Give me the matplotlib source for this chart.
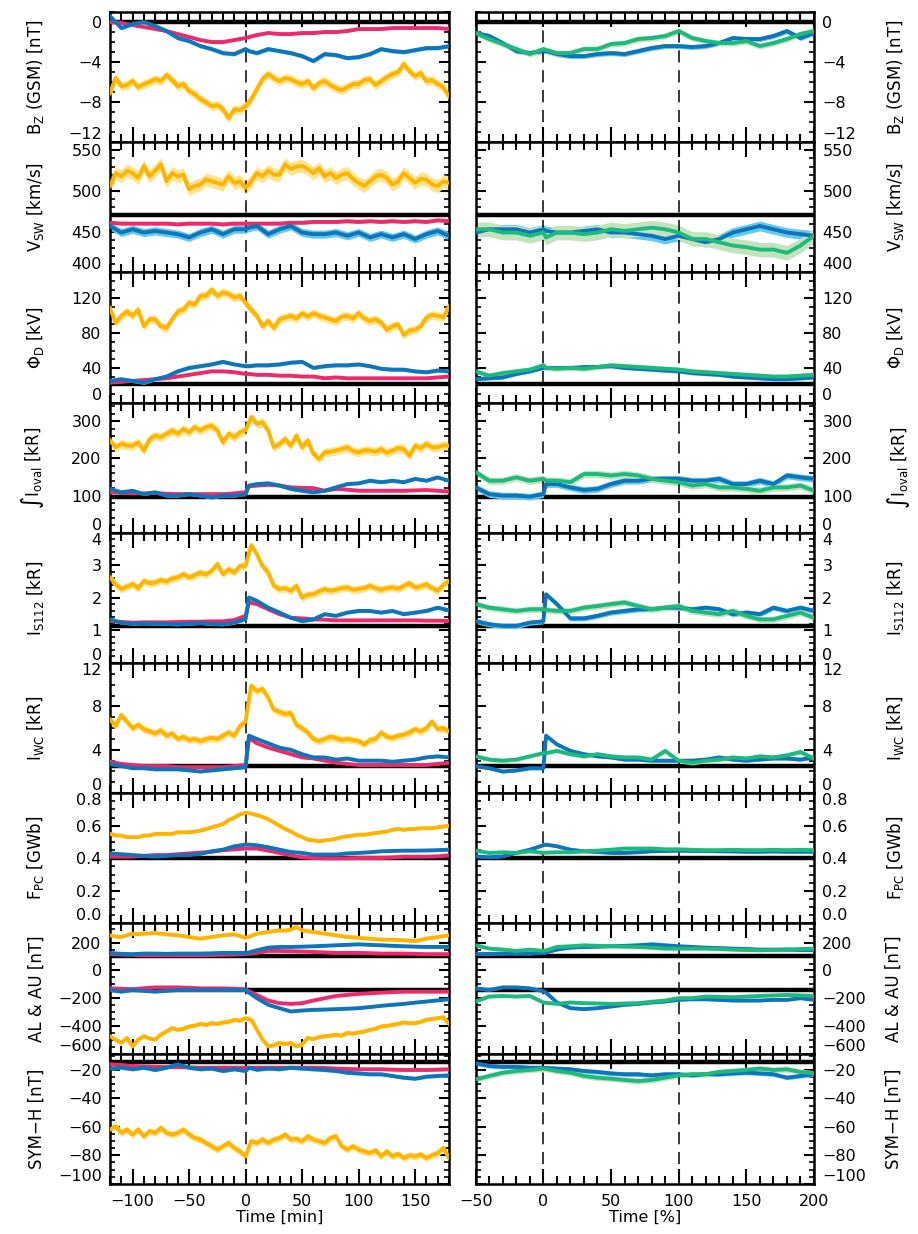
import matplotlib.pyplot as plt
import numpy as np
from matplotlib.ticker import MultipleLocator

# couleurs
YEL, YEL_BAND = "#FFB400", "#FFE38E"
PNK, PNK_BAND = "#EE2A6D", "#F6A2C0"
BLU, BLU_BAND = "#0E75BA", "#63CAEF"
GRN, GRN_BAND = "#1DB97F", "#C3E3BC"

# ---------------- time grids ----------------
t_left_5 = list(range(-120, 181, 5))
t_left = [-120, -110, -100, -90, -80, -70, -60, -50, -40, -30,
          -20, -10, 0, 3, 10, 20, 30, 40, 50, 60,
          70, 80, 90, 100, 110, 120, 130, 140, 150, 160,
          170, 180]
t_right = [-50, -40, -30, -20, -10,
           0, 2, 10, 20, 30,
           40, 50, 60, 70, 80, 90, 100, 110, 120, 130,
           140, 150, 160, 170, 180, 190, 200]

# ---------------- left column : yellow (5 min grid) ----------------
bz_yel = [-7.1, -5.6, -6.4, -6.3, -5.9, -6.5, -6.2, -6.0, -5.7, -5.9,
          -5.3, -5.8, -6.4, -6.2, -6.9, -7.2, -7.7, -8.0, -8.4, -8.3,
          -8.7, -9.6, -8.7, -8.8, -8.4, -7.7, -6.7, -5.7, -5.2, -5.6,
          -5.9, -5.6, -5.7, -6.0, -6.2, -5.9, -6.6, -6.1, -5.9, -6.3,
          -6.6, -6.8, -6.5, -6.2, -6.2, -5.8, -5.7, -6.3, -5.9, -5.5,
          -5.2, -5.0, -4.2, -4.9, -5.4, -5.1, -5.9, -5.8, -6.2, -6.5,
          -7.4]
vsw_yel = [506, 522, 518, 525, 522, 516, 531, 518, 525, 533,
           512, 522, 518, 520, 502, 506, 508, 514, 512, 510,
           508, 518, 510, 512, 504, 512, 522, 518, 525, 520,
           520, 533, 527, 530, 531, 527, 522, 528, 518, 522,
           516, 520, 522, 515, 510, 506, 512, 518, 520, 516,
           508, 512, 522, 516, 510, 515, 514, 508, 506, 512,
           510]
phi_yel = [109, 92, 100, 105, 100, 107, 88, 96, 96, 88,
           86, 96, 105, 107, 115, 113, 123, 123, 130, 123,
           127, 125, 121, 123, 115, 107, 100, 88, 94, 86,
           96, 98, 100, 97, 103, 99, 103, 100, 98, 96,
           94, 99, 100, 97, 103, 97, 94, 96, 92, 84,
           88, 90, 78, 83, 84, 88, 98, 101, 100, 98,
           111]
oval_yel = [248, 230, 239, 235, 234, 243, 221, 252, 261, 257,
            266, 275, 266, 279, 270, 284, 275, 284, 288, 275,
            243, 266, 257, 270, 275, 311, 293, 297, 275, 230,
            239, 252, 234, 261, 230, 248, 212, 199, 216, 218,
            221, 225, 230, 220, 216, 222, 221, 218, 225, 215,
            221, 228, 225, 207, 234, 228, 239, 230, 230, 235,
            234]
s112_yel = [2.63, 2.42, 2.27, 2.35, 2.42, 2.30, 2.52, 2.45, 2.47, 2.55,
            2.50, 2.60, 2.63, 2.73, 2.63, 2.70, 2.78, 2.72, 2.83, 3.04,
            2.73, 2.88, 2.78, 2.98, 2.98, 3.62, 3.34, 2.98, 2.78, 2.37,
            2.27, 2.30, 2.22, 2.37, 2.01, 2.10, 2.11, 2.20, 2.27, 2.22,
            2.25, 2.30, 2.32, 2.25, 2.27, 2.30, 2.37, 2.30, 2.25, 2.30,
            2.32, 2.28, 2.37, 2.45, 2.32, 2.35, 2.42, 2.30, 2.22, 2.40,
            2.52]
wc_yel = [6.8, 6.2, 7.2, 6.6, 6.0, 6.3, 5.9, 5.7, 5.5, 5.8,
          5.3, 5.5, 5.0, 5.2, 4.9, 5.0, 4.8, 5.0, 5.1, 5.0,
          5.3, 5.6, 5.3, 6.2, 6.6, 9.9, 9.4, 9.6, 8.8, 7.7,
          7.5, 7.3, 7.4, 6.3, 6.0, 5.6, 5.0, 4.8, 5.0, 5.2,
          5.1, 4.9, 5.0, 4.9, 4.8, 4.5, 4.9, 5.0, 5.6, 5.2,
          5.1, 5.3, 5.4, 5.6, 5.9, 5.7, 6.0, 6.6, 5.9, 6.0,
          5.7]
pc_yel = [0.55, 0.54, 0.54, 0.53, 0.53, 0.53, 0.54, 0.54, 0.55, 0.55,
          0.55, 0.55, 0.56, 0.56, 0.56, 0.565, 0.57, 0.58, 0.59, 0.60,
          0.61, 0.635, 0.65, 0.67, 0.68, 0.675, 0.665, 0.655, 0.64, 0.62,
          0.60, 0.58, 0.565, 0.545, 0.53, 0.515, 0.51, 0.505, 0.51, 0.515,
          0.52, 0.53, 0.535, 0.54, 0.545, 0.545, 0.55, 0.555, 0.56, 0.565,
          0.575, 0.58, 0.575, 0.58, 0.58, 0.585, 0.585, 0.585, 0.59, 0.595,
          0.60]
au_yel = [254, 245, 242, 255, 266, 262, 266, 268, 271, 265,
          261, 258, 254, 248, 242, 235, 230, 236, 242, 248,
          254, 258, 261, 248, 237, 250, 266, 272, 278, 285,
          290, 288, 295, 314, 290, 284, 278, 272, 266, 260,
          254, 248, 242, 240, 237, 232, 230, 226, 223, 222,
          223, 220, 218, 215, 213, 220, 230, 236, 242, 248,
          254]
al_yel = [-475, -499, -523, -487, -547, -499, -475, -490, -499, -463,
          -440, -416, -428, -420, -404, -398, -385, -392, -380, -385,
          -375, -370, -356, -362, -344, -356, -428, -499, -547, -540,
          -523, -530, -523, -547, -535, -487, -495, -480, -475, -470,
          -463, -470, -451, -455, -447, -440, -428, -420, -404, -400,
          -392, -385, -375, -380, -380, -370, -356, -350, -344, -337,
          -385]
sym_yel = [-61.9, -59.5, -64.2, -61.9, -65.4, -61.9, -66.6, -63.0, -64.2, -60.7,
           -64.2, -65.4, -64.2, -61.9, -65.4, -67.8, -68.9, -71.3, -73.6, -76.0,
           -73.6, -71.3, -74.8, -77.2, -80.7, -70.1, -71.3, -68.9, -71.3, -68.9,
           -67.8, -65.4, -68.9, -68.4, -70.1, -66.6, -68.9, -70.1, -71.3, -67.8,
           -66.6, -73.6, -76.0, -73.6, -76.0, -77.2, -78.4, -76.5, -80.7, -77.2,
           -80.7, -79.0, -81.9, -80.0, -80.7, -79.5, -81.9, -80.0, -78.4, -74.8,
           -81.9]

# ---------------- left column : pink and blue ----------------
bz_pnk = [0.0, -0.1, -0.3, -0.5, -0.7, -0.9, -1.2, -1.5, -1.8, -2.0,
          -2.0, -1.8, -1.6, -1.5, -1.3, -1.1, -1.2, -1.2, -1.1, -1.1,
          -1.0, -1.0, -0.9, -0.7, -0.7, -0.7, -0.6, -0.6, -0.6, -0.6,
          -0.6, -0.7]
bz_blu = [0.6, -0.6, -0.2, 0.0, -0.4, -0.9, -1.6, -1.9, -2.4, -2.7,
          -3.1, -3.2, -2.7, -2.9, -3.1, -2.7, -2.9, -3.1, -3.4, -3.9,
          -3.2, -3.3, -3.6, -3.5, -3.2, -2.7, -2.9, -3.0, -2.8, -2.6,
          -2.6, -2.4]
vsw_pnk = [461, 460, 460, 460, 460, 460, 459, 460, 460, 460,
           459, 460, 460, 460, 460, 460, 460, 461, 461, 462,
           462, 462, 463, 462, 463, 462, 463, 462, 463, 462,
           464, 463]
vsw_blu = [457, 449, 453, 449, 451, 449, 447, 443, 449, 453,
           447, 453, 453, 455, 457, 447, 453, 457, 449, 447,
           447, 449, 445, 449, 443, 447, 443, 447, 441, 447,
           451, 445]
phi_pnk = [23, 24, 25, 26, 27, 28, 30, 32, 34, 36,
           36, 35, 33, 33, 32, 32, 31, 31, 30, 30,
           28, 29, 28, 28, 28, 28, 28, 28, 28, 28,
           29, 30]
phi_blu = [25, 27, 25, 23, 27, 30, 36, 40, 42, 44,
           47, 44, 42, 42, 43, 43, 44, 46, 47, 40,
           42, 43, 43, 44, 42, 39, 38, 38, 36, 35,
           37, 36]
oval_pnk = [109, 107, 106, 106, 107, 105, 104, 104, 104, 104,
            104, 106, 109, 125, 127, 129, 127, 122, 121, 120,
            113, 118, 116, 113, 113, 113, 113, 113, 114, 115,
            113, 111]
oval_blu = [118, 109, 113, 104, 109, 100, 100, 104, 100, 95,
            100, 100, 104, 127, 131, 133, 127, 118, 113, 109,
            113, 122, 131, 133, 140, 136, 140, 136, 145, 140,
            149, 140]
s112_pnk = [1.29, 1.26, 1.24, 1.25, 1.25, 1.25, 1.26, 1.27, 1.27, 1.28,
            1.28, 1.32, 1.45, 1.86, 1.81, 1.65, 1.50, 1.39, 1.37, 1.34,
            1.33, 1.31, 1.31, 1.31, 1.31, 1.31, 1.31, 1.31, 1.31, 1.30,
            1.30, 1.29]
s112_blu = [1.34, 1.24, 1.21, 1.22, 1.21, 1.20, 1.19, 1.21, 1.23, 1.20,
            1.19, 1.24, 1.35, 2.01, 1.91, 1.70, 1.55, 1.39, 1.29, 1.34,
            1.50, 1.45, 1.55, 1.60, 1.60, 1.55, 1.60, 1.50, 1.55, 1.60,
            1.70, 1.62]
wc_pnk = [2.9, 2.7, 2.6, 2.5, 2.5, 2.5, 2.4, 2.4, 2.4, 2.4,
          2.4, 2.5, 2.6, 5.1, 4.6, 4.2, 3.9, 3.6, 3.3, 3.2,
          3.0, 2.8, 2.7, 2.6, 2.6, 2.6, 2.6, 2.6, 2.6, 2.6,
          2.7, 2.8]
wc_blu = [2.7, 2.5, 2.3, 2.3, 2.2, 2.2, 2.2, 2.1, 2.0, 2.1,
          2.2, 2.3, 2.4, 5.3, 5.0, 4.6, 4.2, 4.0, 3.6, 3.3,
          3.3, 3.1, 3.2, 3.0, 3.0, 3.0, 2.9, 3.0, 3.1, 3.3,
          3.4, 3.3]
pc_pnk = [0.41, 0.41, 0.41, 0.415, 0.42, 0.42, 0.425, 0.43, 0.435, 0.44,
          0.45, 0.455, 0.46, 0.46, 0.46, 0.447, 0.433, 0.418, 0.406, 0.402,
          0.40, 0.40, 0.40, 0.402, 0.402, 0.402, 0.405, 0.41, 0.41, 0.41,
          0.412, 0.418]
pc_blu = [0.43, 0.425, 0.42, 0.415, 0.41, 0.415, 0.42, 0.42, 0.427, 0.443,
          0.453, 0.474, 0.484, 0.484, 0.48, 0.468, 0.453, 0.439, 0.433, 0.423,
          0.423, 0.423, 0.43, 0.433, 0.437, 0.443, 0.445, 0.447, 0.447, 0.448,
          0.45, 0.453]
au_pnk = [118, 115, 113, 110, 110, 110, 110, 110, 110, 112,
          113, 115, 118, 120, 127, 141, 141, 139, 137, 134,
          130, 127, 127, 127, 125, 122, 122, 122, 120, 118,
          118, 118]
au_blu = [127, 120, 118, 122, 122, 120, 122, 122, 122, 124,
          127, 127, 127, 130, 146, 165, 170, 170, 172, 175,
          178, 182, 185, 189, 185, 182, 178, 175, 172, 170,
          170, 170]
al_pnk = [-129, -132, -136, -128, -122, -122, -122, -125, -129, -129,
          -129, -132, -136, -150, -177, -217, -236, -241, -236, -217,
          -200, -184, -176, -169, -164, -160, -156, -153, -153, -153,
          -153, -153]
al_blu = [-141, -153, -141, -147, -153, -147, -141, -141, -141, -141,
          -141, -141, -141, -160, -200, -248, -272, -296, -289, -284,
          -282, -279, -276, -272, -264, -255, -248, -241, -232, -224,
          -216, -208]
sym_pnk = [-16.0, -16.5, -17.2, -17.5, -17.8, -18.0, -18.0, -18.2, -18.4, -18.4,
           -18.4, -18.4, -18.4, -18.4, -18.4, -18.4, -18.4, -18.4, -18.4, -18.4,
           -18.6, -19.0, -19.3, -19.5, -19.5, -19.5, -19.8, -20.0, -20.0, -20.0,
           -19.8, -19.5]
sym_blu = [-19.0, -18.4, -19.5, -18.4, -20.0, -18.4, -16.0, -18.4, -19.5, -19.0,
           -20.7, -19.5, -20.7, -18.4, -19.8, -19.0, -19.5, -18.4, -19.0, -19.5,
           -20.0, -20.7, -21.9, -22.4, -23.0, -23.0, -24.2, -25.4, -26.1, -24.7,
           -24.2, -23.8]

# ---------------- right column : blue and green ----------------
bz_blu_r = [-1.1, -1.4, -2.1, -2.9, -3.1,
            -2.9, -2.9, -3.2, -3.4, -3.4,
            -3.2, -3.1, -3.2, -2.9, -2.6, -2.4, -2.4, -2.5, -2.4, -2.1,
            -1.6, -1.7, -1.7, -1.4, -0.9, -1.6, -1.1]
bz_grn_r = [-1.1, -1.7, -2.2, -2.7, -3.2,
            -2.7, -2.8, -3.1, -3.1, -2.7,
            -2.7, -2.2, -2.1, -1.7, -1.6, -1.4, -0.9, -1.6, -1.9, -2.1,
            -2.1, -1.9, -2.4, -2.1, -1.7, -1.2, -0.9]
vsw_blu_r = [449, 453, 453, 453, 449,
             453, 451, 449, 449, 451,
             453, 449, 449, 447, 445, 441, 445, 441, 437, 441,
             449, 453, 457, 453, 449, 447, 445]
vsw_grn_r = [453, 453, 449, 449, 445,
             449, 443, 449, 449, 447,
             449, 453, 451, 453, 455, 453, 449, 441, 441, 437,
             433, 431, 428, 428, 424, 433, 445]
phi_blu_r = [27, 28, 29, 33, 36,
             40, 40, 40, 40, 41,
             41, 42, 40, 39, 38, 37, 36, 34, 33, 32,
             30, 29, 28, 27, 27, 28, 29]
phi_grn_r = [36, 31, 34, 36, 38,
             43, 40, 39, 40, 39,
             41, 43, 42, 41, 40, 39, 38, 36, 35, 34,
             33, 32, 31, 30, 30, 31, 32]
oval_blu_r = [122, 104, 100, 100, 97,
              104, 131, 131, 122, 115,
              118, 131, 140, 140, 145, 145, 145, 140, 140, 145,
              131, 131, 140, 131, 154, 149, 145]
oval_grn_r = [163, 140, 140, 149, 140,
              145, 140, 140, 136, 158,
              158, 154, 158, 154, 145, 140, 136, 127, 131, 122,
              122, 118, 113, 122, 122, 127, 113]
s112_blu_r = [1.29, 1.19, 1.14, 1.14, 1.24,
              1.28, 2.11, 1.81, 1.37, 1.37,
              1.45, 1.55, 1.60, 1.65, 1.65, 1.70, 1.70, 1.65, 1.70, 1.65,
              1.50, 1.55, 1.50, 1.70, 1.60, 1.70, 1.60]
s112_grn_r = [1.81, 1.70, 1.65, 1.60, 1.65,
              1.65, 1.63, 1.60, 1.60, 1.70,
              1.75, 1.81, 1.86, 1.75, 1.65, 1.70, 1.75, 1.60, 1.55, 1.50,
              1.60, 1.45, 1.34, 1.34, 1.45, 1.55, 1.39]
wc_blu_r = [2.5, 2.3, 2.0, 2.1, 2.3,
            2.3, 5.3, 4.5, 3.9, 3.6,
            3.4, 3.3, 3.1, 3.1, 3.0, 3.0, 3.0, 3.0, 3.1, 3.3,
            3.1, 3.0, 3.1, 3.2, 3.2, 3.1, 3.3]
wc_grn_r = [3.4, 3.1, 3.0, 3.1, 3.4,
            3.7, 3.7, 3.9, 3.6, 3.4,
            3.6, 3.4, 3.3, 3.3, 3.1, 3.9, 3.0, 2.8, 3.0, 3.1,
            3.3, 3.2, 3.4, 3.3, 3.5, 3.8, 3.2]
pc_blu_r = [0.412, 0.406, 0.412, 0.433, 0.453,
            0.48, 0.484, 0.474, 0.453, 0.443,
            0.439, 0.433, 0.433, 0.437, 0.443, 0.445, 0.447, 0.445, 0.445, 0.443,
            0.442, 0.44, 0.44, 0.442, 0.44, 0.44, 0.44]
pc_grn_r = [0.447, 0.433, 0.437, 0.433, 0.443,
            0.433, 0.435, 0.437, 0.437, 0.443,
            0.447, 0.453, 0.46, 0.46, 0.46, 0.455, 0.455, 0.452, 0.45, 0.45,
            0.452, 0.45, 0.45, 0.452, 0.45, 0.452, 0.45]
au_blu_r = [118, 120, 122, 122, 122,
            127, 130, 151, 165, 170,
            172, 175, 178, 182, 189, 182, 175, 170, 165, 162,
            158, 155, 151, 151, 151, 148, 146]
au_grn_r = [182, 158, 151, 141, 151,
            141, 145, 170, 175, 182,
            178, 175, 172, 170, 165, 158, 158, 158, 158, 155,
            151, 148, 146, 148, 151, 155, 158]
al_blu_r = [-129, -141, -122, -122, -129,
            -150, -160, -231, -272, -279,
            -272, -260, -248, -241, -231, -224, -212, -208, -208, -212,
            -217, -217, -217, -212, -212, -200, -212]
al_grn_r = [-224, -188, -184, -188, -184,
            -231, -233, -241, -231, -236,
            -238, -241, -238, -236, -226, -217, -200, -200, -188, -190,
            -193, -188, -184, -180, -177, -180, -184]
sym_blu_r = [-15.3, -17.2, -17.8, -17.8, -18.4,
             -18.4, -18.6, -19.0, -19.5, -20.7,
             -21.4, -22.4, -23.0, -23.0, -23.8, -23.0, -23.0, -23.8, -23.0, -23.0,
             -22.4, -21.9, -22.4, -23.0, -25.4, -24.2, -23.0]
sym_grn_r = [-26.6, -24.2, -21.9, -20.7, -20.0,
             -19.0, -19.3, -20.7, -21.9, -24.2,
             -25.4, -26.1, -27.0, -27.8, -27.0, -25.4, -23.8, -23.0, -23.0, -21.4,
             -20.7, -20.0, -19.0, -20.0, -19.5, -21.4, -22.4]

# half width of the shaded bands (yellow, pink, blue) / (blue, green)
err_left = [[0.45, 0.12, 0.2], [8, 2, 5], [5, 1.2, 2], [12, 3, 4],
            [0.12, 0.03, 0.05], [0.35, 0.08, 0.12], [0.008, 0.004, 0.005],
            [10, 4, 6], [2.5, 0.8, 1.2]]
err_right = [[0.25, 0.3], [6, 9], [2, 3], [9, 10], [0.08, 0.1],
             [0.15, 0.2], [0.007, 0.008], [9, 10], [1.5, 2.0]]
err_al_left = [14, 5, 7]
err_al_right = [8, 10]

# baseline (thick black) levels of each row
ref_lines = [[0], [471], [22], [95], [1.13], [2.5], [0.40], [105, -140], [-14.6]]

ylabels = [r"B$_{\rm Z}$ (GSM) [nT]", r"V$_{\rm SW}$ [km/s]", r"Φ$_{\rm D}$ [kV]",
           r"$\int$I$_{\rm oval}$ [kR]", r"I$_{\rm S112}$ [kR]", r"I$_{\rm WC}$ [kR]",
           r"F$_{\rm PC}$ [GWb]", "AL & AU [nT]", "SYM−H [nT]"]
ylims = [(-12, 1), (400, 560), (0, 150), (0, 350), (0, 4), (0, 12), (0, 0.8),
         (-600, 340), (-100, -8.5)]
ymajor = [4, 50, 40, 100, 1, 4, 0.2, 200, 20]
yminor = [1, 10, 10, 20, 0.2, 1, 0.05, 50, 5]

# what goes in each row (series lists), built from the named lists above
left_rows = [
    [bz_yel, bz_pnk, bz_blu],
    [vsw_yel, vsw_pnk, vsw_blu],
    [phi_yel, phi_pnk, phi_blu],
    [oval_yel, oval_pnk, oval_blu],
    [s112_yel, s112_pnk, s112_blu],
    [wc_yel, wc_pnk, wc_blu],
    [pc_yel, pc_pnk, pc_blu],
    [au_yel, au_pnk, au_blu],
    [sym_yel, sym_pnk, sym_blu],
]
right_rows = [
    [bz_blu_r, bz_grn_r], [vsw_blu_r, vsw_grn_r], [phi_blu_r, phi_grn_r],
    [oval_blu_r, oval_grn_r], [s112_blu_r, s112_grn_r], [wc_blu_r, wc_grn_r],
    [pc_blu_r, pc_grn_r], [au_blu_r, au_grn_r], [sym_blu_r, sym_grn_r],
]
al_left = [al_yel, al_pnk, al_blu]
al_right = [al_blu_r, al_grn_r]

plt.rcParams['font.family'] = ['DejaVu Sans']
plt.rcParams['mathtext.fontset'] = 'dejavusans'
FS = 11.5

W, H = 918, 1234
fig = plt.figure(figsize=(W / 100, H / 100), dpi=100)


def draw(ax, t, v, e, col, band):
    v = np.asarray(v, dtype=float)
    ax.fill_between(t, v - e, v + e, color=band, lw=0, zorder=2)
    ax.plot(t, v, color=col, lw=2.8, zorder=3, solid_joinstyle='round')


def style(ax, row, right):
    ax.set_ylim(*ylims[row])
    ax.yaxis.set_major_locator(MultipleLocator(ymajor[row]))
    ax.yaxis.set_minor_locator(MultipleLocator(yminor[row]))
    ax.xaxis.set_major_locator(MultipleLocator(50))
    ax.xaxis.set_minor_locator(MultipleLocator(10))
    for s in ax.spines.values():
        s.set_linewidth(1.8)
    ax.tick_params(axis='x', which='major', direction='in', length=11, width=1.5,
                   top=True, bottom=True, labelsize=FS, pad=7,
                   labelbottom=(row == 8))
    ax.tick_params(axis='x', which='minor', direction='in', length=5.5, width=1.5,
                   top=True, bottom=True)
    ax.tick_params(axis='y', which='major', direction='in', length=7, width=1.5,
                   left=True, right=True, labelsize=FS, pad=6,
                   labelleft=not right, labelright=right)
    ax.tick_params(axis='y', which='minor', direction='in', length=3.5, width=1.2,
                   left=True, right=True)
    if right:
        ax.yaxis.set_label_position('right')
        ax.set_ylabel(ylabels[row], fontsize=FS + 0.5)
        ax.yaxis.set_label_coords(1.21, 0.5)
    else:
        ax.set_ylabel(ylabels[row], fontsize=FS + 0.5)
        ax.yaxis.set_label_coords(-0.19, 0.5)
    for r in ref_lines[row]:
        ax.axhline(r, color='black', lw=3.2, zorder=1.5)


all_axes = []
top_px, row_px = 12, 130.2
for row in range(9):
    bottom = 1 - (top_px + (row + 1) * row_px) / H
    h = row_px / H

    # ---- left column (time in minutes) ----
    ax = fig.add_axes([110 / W, bottom, 339 / W, h])
    ax.set_xlim(-120, 180)
    style(ax, row, right=False)
    ax.axvline(0, color='black', lw=1.1, dashes=(8, 5), zorder=2.5)
    yel, pnk, blu = left_rows[row]
    ey, ep, eb = err_left[row]
    draw(ax, t_left_5, yel, ey, YEL, YEL_BAND)
    draw(ax, t_left, pnk, ep, PNK, PNK_BAND)
    draw(ax, t_left, blu, eb, BLU, BLU_BAND)
    if row == 7:
        draw(ax, t_left_5, al_left[0], err_al_left[0], YEL, YEL_BAND)
        draw(ax, t_left, al_left[1], err_al_left[1], PNK, PNK_BAND)
        draw(ax, t_left, al_left[2], err_al_left[2], BLU, BLU_BAND)
    if row == 8:
        ax.set_xlabel("Time [min]", fontsize=FS, labelpad=1)
    all_axes.append(ax)

    # ---- right column (time in % of phase) ----
    ax = fig.add_axes([475.7 / W, bottom, 338.3 / W, h])
    ax.set_xlim(-50, 200)
    style(ax, row, right=True)
    for xv in (0, 100):
        ax.axvline(xv, color='black', lw=1.1, dashes=(8, 5), zorder=2.5)
    blu, grn = right_rows[row]
    eb, eg = err_right[row]
    draw(ax, t_right, blu, eb, BLU, BLU_BAND)
    draw(ax, t_right, grn, eg, GRN, GRN_BAND)
    if row == 7:
        draw(ax, t_right, al_right[0], err_al_right[0], BLU, BLU_BAND)
        draw(ax, t_right, al_right[1], err_al_right[1], GRN, GRN_BAND)
    if row == 8:
        ax.set_xlabel("Time [%]", fontsize=FS, labelpad=1)
    all_axes.append(ax)

# push the labels sitting on the panel edges inwards (as in the original)
fig.canvas.draw()
for ax in all_axes:
    lo, hi = ax.get_ylim()
    tol = 1e-6 * (hi - lo)
    for tick in ax.yaxis.get_major_ticks():
        loc = tick.get_loc()
        if abs(loc - lo) < tol:
            tick.label1.set_va('bottom')
            tick.label2.set_va('bottom')
        elif abs(loc - hi) < tol:
            tick.label1.set_va('top')
            tick.label2.set_va('top')

fig.savefig("out.png", dpi=100)
